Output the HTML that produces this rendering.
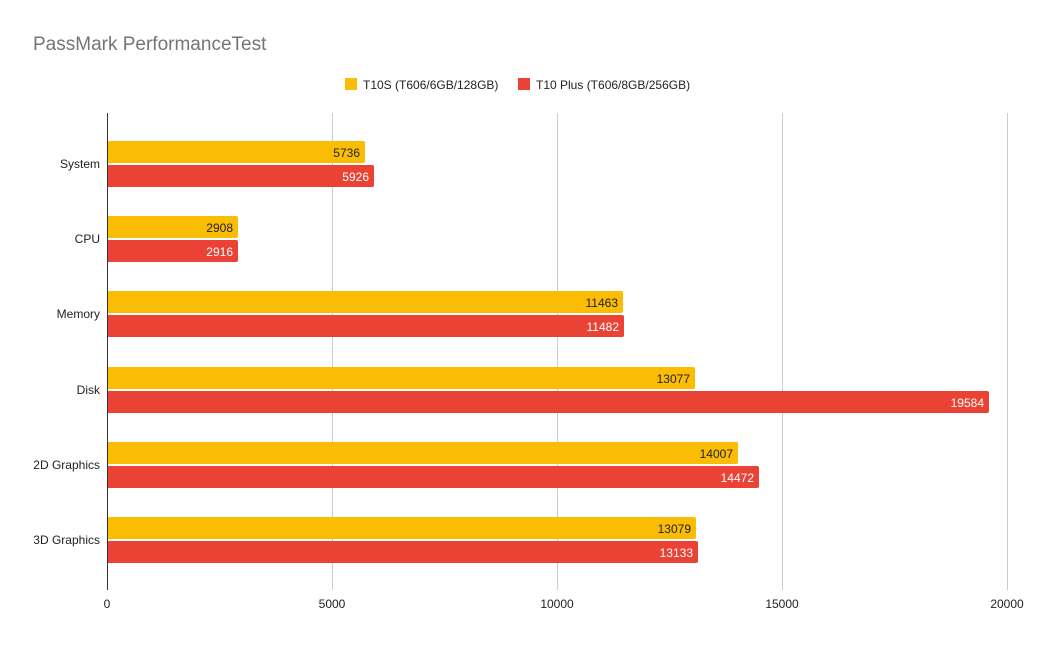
<!DOCTYPE html>
<html><head><meta charset="utf-8"><style>
body{margin:0;background:#fff}
text{font-family:"Liberation Sans",Arial,sans-serif}
</style></head><body>
<svg width="1040" height="643" xmlns="http://www.w3.org/2000/svg">
<rect width="1040" height="643" fill="#fff"/>
<text x="33" y="50" font-size="19" fill="#757575">PassMark PerformanceTest</text>
<rect x="345" y="78" width="12" height="12" fill="#fbbc04"/>
<text x="363" y="89" font-size="12" fill="#222">T10S (T606/6GB/128GB)</text>
<rect x="518" y="78" width="12" height="12" fill="#ea4335"/>
<text x="536" y="89" font-size="12" fill="#222">T10 Plus (T606/8GB/256GB)</text>
<g stroke="#ccc" stroke-width="1">
<line x1="332.5" y1="113" x2="332.5" y2="590"/>
<line x1="557.5" y1="113" x2="557.5" y2="590"/>
<line x1="782.5" y1="113" x2="782.5" y2="590"/>
<line x1="1007.5" y1="113" x2="1007.5" y2="590"/>
</g>
<g font-size="12" fill="#222" text-anchor="middle">
<text x="107" y="608">0</text><text x="332" y="608">5000</text><text x="557" y="608">10000</text><text x="782" y="608">15000</text><text x="1007" y="608">20000</text>
</g>
<g font-size="12" fill="#222" text-anchor="end">
<text x="100" y="168">System</text>
<text x="100" y="243">CPU</text>
<text x="100" y="318">Memory</text>
<text x="100" y="394">Disk</text>
<text x="100" y="469">2D Graphics</text>
<text x="100" y="544">3D Graphics</text>
</g>
<g font-size="12" text-anchor="end">
<rect x="107" y="141" width="258" height="22" rx="2" fill="#fbbc04"/><text x="360" y="157" fill="#222">5736</text>
<rect x="107" y="165" width="267" height="22" rx="2" fill="#ea4335"/><text x="369" y="181" fill="#fff">5926</text>
<rect x="107" y="216" width="131" height="22" rx="2" fill="#fbbc04"/><text x="233" y="232" fill="#222">2908</text>
<rect x="107" y="240" width="131" height="22" rx="2" fill="#ea4335"/><text x="233" y="256" fill="#fff">2916</text>
<rect x="107" y="291" width="516" height="22" rx="2" fill="#fbbc04"/><text x="618" y="307" fill="#222">11463</text>
<rect x="107" y="315" width="517" height="22" rx="2" fill="#ea4335"/><text x="619" y="331" fill="#fff">11482</text>
<rect x="107" y="367" width="588" height="22" rx="2" fill="#fbbc04"/><text x="690" y="383" fill="#222">13077</text>
<rect x="107" y="391" width="882" height="22" rx="2" fill="#ea4335"/><text x="984" y="407" fill="#fff">19584</text>
<rect x="107" y="442" width="631" height="22" rx="2" fill="#fbbc04"/><text x="733" y="458" fill="#222">14007</text>
<rect x="107" y="466" width="652" height="22" rx="2" fill="#ea4335"/><text x="754" y="482" fill="#fff">14472</text>
<rect x="107" y="517" width="589" height="22" rx="2" fill="#fbbc04"/><text x="691" y="533" fill="#222">13079</text>
<rect x="107" y="541" width="591" height="22" rx="2" fill="#ea4335"/><text x="693" y="557" fill="#fff">13133</text>
</g>
<line x1="107.5" y1="113" x2="107.5" y2="590" stroke="#333" stroke-width="1"/>
</svg>
</body></html>
